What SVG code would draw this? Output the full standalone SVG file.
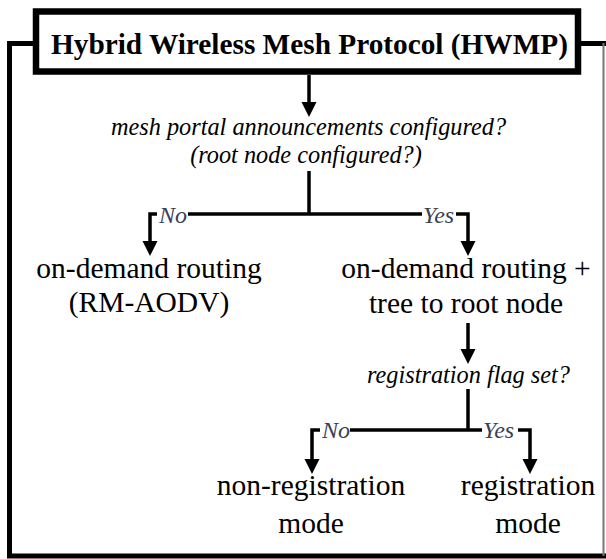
<svg xmlns="http://www.w3.org/2000/svg" xmlns:xlink="http://www.w3.org/1999/xlink" width="606" height="559" viewBox="0 0 606 559">
<style>
.ln{fill:none;stroke:#000;stroke-width:3.5;stroke-linejoin:miter}
.frame{fill:none;stroke:#000;stroke-width:5}
.t{font-family:"Liberation Serif","Times New Roman",serif;fill:#000;text-anchor:middle}
.title{font-size:29.3px;font-weight:bold}
.q{font-size:24.3px;font-style:italic}
.n{font-size:29.5px}
.lab{font-family:"Liberation Serif","Times New Roman",serif;font-size:24px;font-style:italic;fill:#3a4058}
</style>
<defs>
<path id="ah" d="M-7.5,-15 L7.5,-15 L0,0 Z" fill="#000"/>
</defs>
<rect width="606" height="559" fill="#fff"/>
<g id="frame">
<path class="frame" d="M36,43.5 H9.5 V556 H606"/>
<path class="frame" d="M581,43.5 H606"/>
<line x1="603.5" y1="43" x2="603.5" y2="556" stroke="#777" stroke-width="2"/>
</g>
<g id="connectors">
<path class="ln" d="M309,75 V104"/>
<use xlink:href="#ah" x="309" y="117"/>
<path class="ln" d="M309,171 V214"/>
<path class="ln" d="M157,214 H150 V244"/>
<use xlink:href="#ah" x="150" y="256"/>
<path class="ln" d="M188,214 H422"/>
<path class="ln" d="M456,214 H468 V244"/>
<use xlink:href="#ah" x="468" y="256"/>
<path class="ln" d="M468,323 V351"/>
<use xlink:href="#ah" x="468" y="364"/>
<path class="ln" d="M468,389 V430"/>
<path class="ln" d="M320,430 H312 V461"/>
<use xlink:href="#ah" x="312" y="474"/>
<path class="ln" d="M350,430 H482"/>
<path class="ln" d="M518,430 H530 V461"/>
<use xlink:href="#ah" x="530" y="474"/>
<text class="lab" x="159" y="222.5">No</text>
<text class="lab" x="423" y="222.5">Yes</text>
<text class="lab" x="322" y="438">No</text>
<text class="lab" x="483" y="438">Yes</text>
</g>
<g id="hwmp">
<rect x="36" y="11.5" width="542" height="60" fill="#fff" stroke="#000" stroke-width="6.5"/>
<text class="t title" x="309.5" y="54">Hybrid Wireless Mesh Protocol (HWMP)</text>
</g>
<g id="q1">
<text class="t q" x="308.5" y="135">mesh portal announcements configured?</text>
<text class="t q" x="306" y="163">(root node configured?)</text>
</g>
<g id="ondemand">
<text class="t n" x="149" y="278">on-demand routing</text>
<text class="t n" x="149" y="312">(RM-AODV)</text>
</g>
<g id="ondemandtree">
<text class="t n" x="466" y="278">on-demand routing +</text>
<text class="t n" x="466" y="313">tree to root node</text>
</g>
<g id="q2">
<text class="t q" x="468.5" y="383">registration flag set?</text>
</g>
<g id="nonreg">
<text class="t n" x="311" y="495">non-registration</text>
<text class="t n" x="311" y="533">mode</text>
</g>
<g id="reg">
<text class="t n" x="528" y="495">registration</text>
<text class="t n" x="528" y="533">mode</text>
</g>
</svg>
